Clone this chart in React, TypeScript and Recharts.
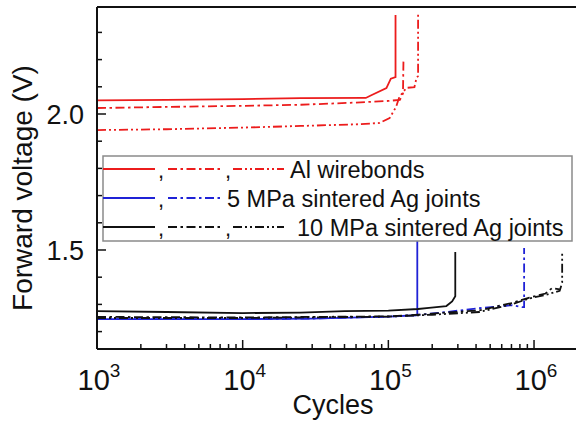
import React from 'react';
import { LineChart, Line, XAxis, YAxis, ReferenceLine } from 'recharts';

type Pt = { c: number; v: number };

// Al wirebonds (red)
const alSolid: Pt[] = [
  { c: 1000, v: 2.05 }, { c: 3000, v: 2.052 }, { c: 10000, v: 2.055 }, { c: 25000, v: 2.058 },
  { c: 70000, v: 2.059 }, { c: 77000, v: 2.07 }, { c: 97000, v: 2.095 }, { c: 104000, v: 2.13 },
  { c: 112000, v: 2.136 }, { c: 112000, v: 2.364 },
];
const alDashDot: Pt[] = [
  { c: 1000, v: 2.022 }, { c: 3000, v: 2.026 }, { c: 10000, v: 2.03 }, { c: 25000, v: 2.034 },
  { c: 60000, v: 2.042 }, { c: 100000, v: 2.048 }, { c: 120000, v: 2.052 }, { c: 126000, v: 2.075 },
  { c: 127000, v: 2.2 },
];
const alDashDotDot: Pt[] = [
  { c: 1000, v: 1.941 }, { c: 3000, v: 1.944 }, { c: 10000, v: 1.95 }, { c: 25000, v: 1.956 },
  { c: 60000, v: 1.962 }, { c: 87000, v: 1.967 }, { c: 102000, v: 1.985 }, { c: 113000, v: 2.026 },
  { c: 119000, v: 2.063 }, { c: 133000, v: 2.096 }, { c: 151000, v: 2.099 }, { c: 156000, v: 2.132 },
  { c: 160000, v: 2.14 }, { c: 160000, v: 2.371 },
];

// 5 MPa sintered Ag joints (blue)
const ag5Solid: Pt[] = [
  { c: 1000, v: 1.246 }, { c: 10000, v: 1.246 }, { c: 30000, v: 1.248 }, { c: 100000, v: 1.255 },
  { c: 155000, v: 1.26 }, { c: 158000, v: 1.261 }, { c: 158000, v: 1.62 },
];
const ag5DashDot: Pt[] = [
  { c: 1000, v: 1.246 }, { c: 10000, v: 1.246 }, { c: 30000, v: 1.248 }, { c: 100000, v: 1.255 },
  { c: 158000, v: 1.261 }, { c: 250000, v: 1.272 }, { c: 420000, v: 1.286 }, { c: 706000, v: 1.297 },
  { c: 827000, v: 1.29 }, { c: 855000, v: 1.29 }, { c: 855000, v: 1.507 },
];

// 10 MPa sintered Ag joints (black)
const ag10Solid: Pt[] = [
  { c: 1000, v: 1.275 }, { c: 3000, v: 1.272 }, { c: 10000, v: 1.268 }, { c: 25000, v: 1.27 },
  { c: 50000, v: 1.275 }, { c: 100000, v: 1.277 }, { c: 160000, v: 1.283 }, { c: 190000, v: 1.287 },
  { c: 250000, v: 1.294 }, { c: 274000, v: 1.311 }, { c: 288000, v: 1.33 }, { c: 288000, v: 1.493 },
];
const ag10DashDot: Pt[] = [
  { c: 1000, v: 1.254 }, { c: 10000, v: 1.252 }, { c: 100000, v: 1.256 }, { c: 160000, v: 1.262 },
  { c: 250000, v: 1.27 }, { c: 420000, v: 1.278 }, { c: 700000, v: 1.305 }, { c: 930000, v: 1.325 },
  { c: 1200000, v: 1.34 }, { c: 1330000, v: 1.36 }, { c: 1500000, v: 1.355 },
];
const ag10DashDotDot: Pt[] = [
  { c: 1000, v: 1.25 }, { c: 10000, v: 1.25 }, { c: 100000, v: 1.255 }, { c: 200000, v: 1.262 },
  { c: 420000, v: 1.272 }, { c: 700000, v: 1.3 }, { c: 930000, v: 1.322 }, { c: 1200000, v: 1.335 },
  { c: 1500000, v: 1.35 }, { c: 1560000, v: 1.38 }, { c: 1560000, v: 1.493 },
];

const xTicks = [
  1000, 2000, 3000, 4000, 5000, 6000, 7000, 8000, 9000,
  10000, 20000, 30000, 40000, 50000, 60000, 70000, 80000, 90000,
  100000, 200000, 300000, 400000, 500000, 600000, 700000, 800000, 900000,
  1000000, 2000000,
];
const yTicks = [1.2, 1.3, 1.4, 1.5, 1.6, 1.7, 1.8, 1.9, 2.0, 2.1, 2.2, 2.3];
const yLabeled = [1.5, 2.0];
const legendLabels = ['Al wirebonds', '5 MPa sintered Ag joints', '10 MPa sintered Ag joints'];

const RED = '#ec1c1c';
const BLUE = '#1f22d6';
const BLACK = '#111111';
const DASH_DOT = '9 3.5 2.5 3.5';
const DASH_DOT_DOT = '9 3 2 3 2 3';
const FONT = '"Liberation Sans", Arial, sans-serif';

const XTick = (props: any) => {
  const { x, y, payload } = props;
  const val = payload.value as number;
  const exp = Math.log10(val);
  const major = Math.abs(exp - Math.round(exp)) < 1e-6;
  return (
    <g>
      <line x1={x} y1={y} x2={x} y2={y - (major ? 9 : 5)} stroke={BLACK} strokeWidth={1.5} />
      {major && (
        <text x={x + 2} y={y + 41} textAnchor="middle" fontSize={29} fill={BLACK} fontFamily={FONT}>
          10<tspan fontSize={19} dy={-13}>{Math.round(exp)}</tspan>
        </text>
      )}
    </g>
  );
};

const YTick = (props: any) => {
  const { x, y, payload } = props;
  const val = payload.value as number;
  const major = yLabeled.some((m) => Math.abs(m - val) < 1e-6);
  return (
    <g>
      <line x1={x} y1={y} x2={x + (major ? 9 : 5)} y2={y} stroke={BLACK} strokeWidth={1.5} />
      {major && (
        <text x={x - 13} y={y + 10} textAnchor="end" fontSize={27} fill={BLACK} fontFamily={FONT}>
          {val.toFixed(1)}
        </text>
      )}
    </g>
  );
};

const LegendBox = () => {
  const rows = [
    { y: 169, color: RED, styles: ['', DASH_DOT, DASH_DOT_DOT], textX: 290 },
    { y: 198, color: BLUE, styles: ['', DASH_DOT], textX: 227 },
    { y: 227, color: BLACK, styles: ['', DASH_DOT, DASH_DOT_DOT], textX: 297 },
  ];
  const segs = [[103, 155], [168, 222], [233, 284]];
  return (
    <svg width={576} height={426} style={{ position: 'absolute', left: 0, top: 0, pointerEvents: 'none' }}>
      <rect x={103} y={156} width={469} height={85} fill="#fff" stroke="#8a8a8a" strokeWidth={1.5} />
      {rows.map((r, i) => (
        <g key={i}>
          {r.styles.map((s, j) => (
            <line key={j} x1={segs[j][0]} y1={r.y} x2={segs[j][1]} y2={r.y}
              stroke={r.color} strokeWidth={2} strokeDasharray={s || undefined} />
          ))}
          {r.styles.slice(1).map((_, j) => (
            <text key={'c' + j} x={segs[j][1] + 3} y={r.y + 9} fontSize={22} fill={BLACK} fontFamily={FONT}>,</text>
          ))}
          <text x={r.textX} y={r.y + 9} fontSize={23.5} fill={BLACK} fontFamily={FONT}>{legendLabels[i]}</text>
        </g>
      ))}
    </svg>
  );
};

export default function App() {
  const yDomain = [1.136, 2.3934];
  return (
    <div style={{ position: 'fixed', left: 0, top: 0, width: 576, height: 426, overflow: 'hidden', background: '#fff' }}>
      <LineChart width={620} height={426} margin={{ top: 7, right: 28, left: 0, bottom: 0 }}>
        <XAxis
          dataKey="c" type="number" scale="log" domain={[1000, 2500000]} allowDataOverflow
          ticks={xTicks} interval={0} tickSize={0} tickMargin={0} tickLine={false}
          tick={<XTick />} height={77} axisLine={{ stroke: BLACK, strokeWidth: 2 }}
        />
        <YAxis
          type="number" domain={yDomain} allowDataOverflow ticks={yTicks} interval={0}
          tickSize={0} tickMargin={0} tickLine={false} tick={<YTick />} width={97}
          axisLine={{ stroke: BLACK, strokeWidth: 2 }}
        />
        <ReferenceLine y={yDomain[1]} stroke={BLACK} strokeWidth={2} />
        <Line data={ag5Solid} dataKey="v" stroke={BLUE} strokeWidth={1.8} dot={false} isAnimationActive={false} />
        <Line data={ag5DashDot} dataKey="v" stroke={BLUE} strokeWidth={1.8} strokeDasharray={DASH_DOT} dot={false} isAnimationActive={false} />
        <Line data={ag10Solid} dataKey="v" stroke={BLACK} strokeWidth={1.8} dot={false} isAnimationActive={false} />
        <Line data={ag10DashDot} dataKey="v" stroke={BLACK} strokeWidth={1.8} strokeDasharray={DASH_DOT} dot={false} isAnimationActive={false} />
        <Line data={ag10DashDotDot} dataKey="v" stroke={BLACK} strokeWidth={1.8} strokeDasharray={DASH_DOT_DOT} dot={false} isAnimationActive={false} />
        <Line data={alSolid} dataKey="v" stroke={RED} strokeWidth={1.8} dot={false} isAnimationActive={false} />
        <Line data={alDashDot} dataKey="v" stroke={RED} strokeWidth={1.8} strokeDasharray={DASH_DOT} dot={false} isAnimationActive={false} />
        <Line data={alDashDotDot} dataKey="v" stroke={RED} strokeWidth={1.8} strokeDasharray={DASH_DOT_DOT} dot={false} isAnimationActive={false} />
      </LineChart>
      <LegendBox />
      <svg width={576} height={426} style={{ position: 'absolute', left: 0, top: 0, pointerEvents: 'none' }}>
        <text x={333} y={414} textAnchor="middle" fontSize={27} fill={BLACK} fontFamily={FONT}>Cycles</text>
        <text x={32} y={188} textAnchor="middle" fontSize={28} fill={BLACK} fontFamily={FONT}
          transform="rotate(-90 32 188)">Forward voltage (V)</text>
      </svg>
    </div>
  );
}
